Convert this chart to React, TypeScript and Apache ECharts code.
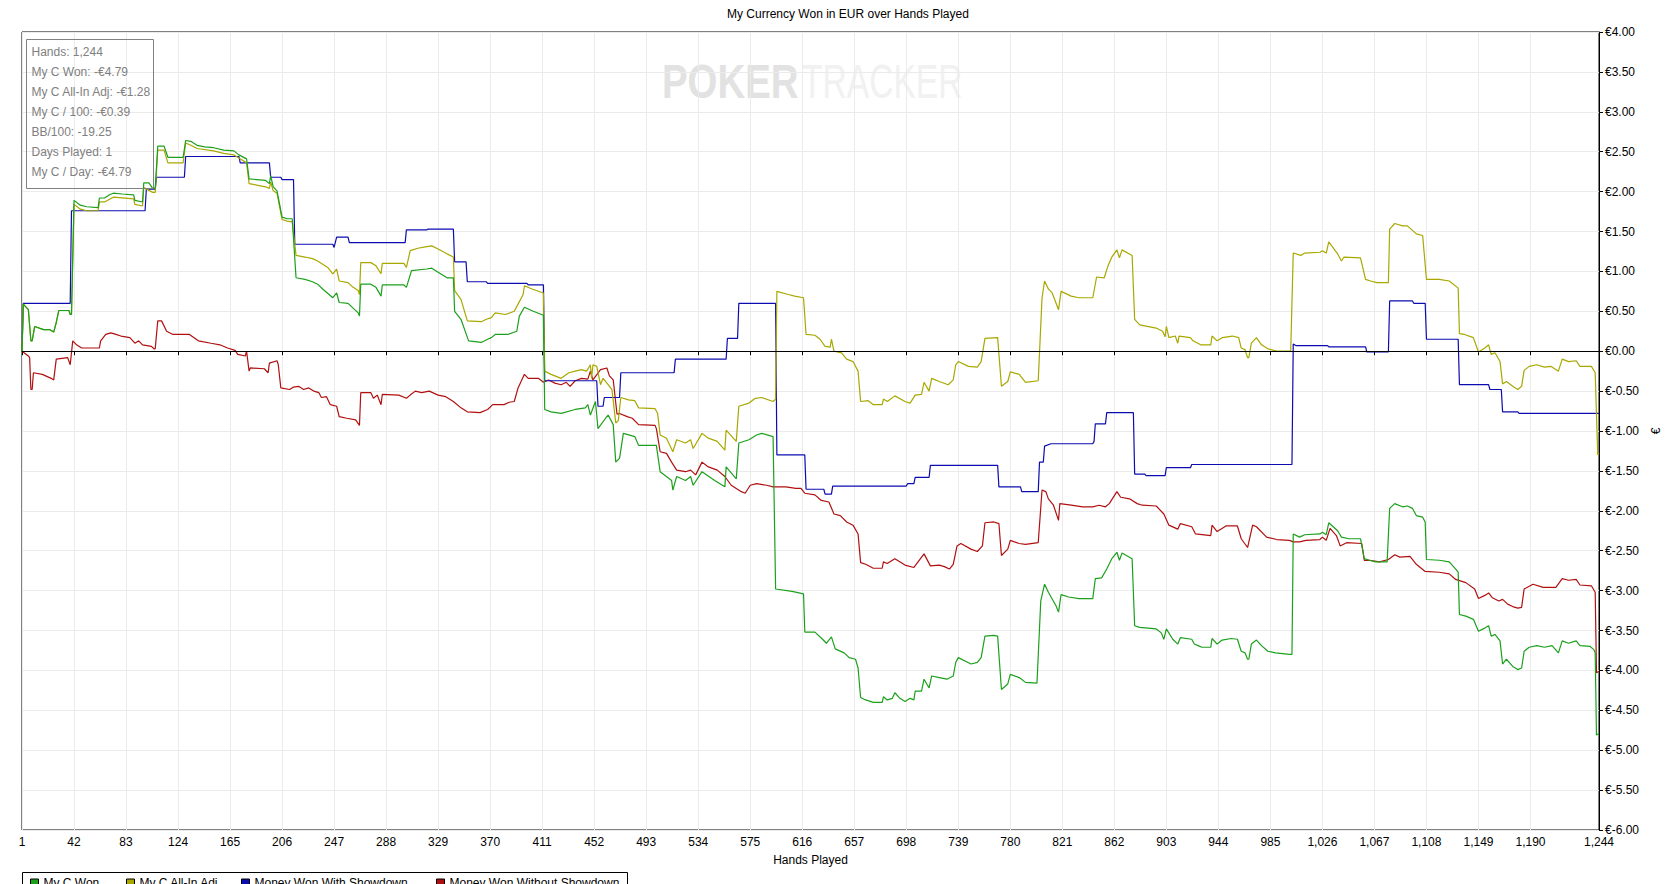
import React, { useEffect, useRef } from "react";
import * as echarts from "echarts";

const TITLE = "My Currency Won in EUR over Hands Played";
const X_NAME = "Hands Played";
const Y_NAME = "€";
const HAND_TICKS = [1, 42, 83, 124, 165, 206, 247, 288, 329, 370, 411, 452, 493, 534, 575, 616, 657, 698, 739, 780, 821, 862, 903, 944, 985, 1026, 1067, 1108, 1149, 1190, 1244];
const SERIES_NAMES = ["My C Won", "My C All-In Adj", "Money Won With Showdown", "Money Won Without Showdown"];
const STATS_LINES = ["Hands: 1,244", "My C Won: -€4.79", "My C All-In Adj: -€1.28", "My C / 100: -€0.39", "BB/100: -19.25", "Days Played: 1", "My C / Day: -€4.79"];

const MY_C_WON = [[1,0],[2,0.59],[6,0.52],[8,0.13],[9,0.13],[11,0.31],[18,0.27],[23,0.27],[26,0.24],[28,0.36],[30,0.51],[38,0.51],[39,0.46],[40,0.46],[42,1.89],[47,1.83],[52,1.81],[61,1.80],[62,1.92],[66,1.92],[70,1.96],[73,1.98],[80,1.97],[89,1.96],[90,1.89],[96,1.87],[97,2.11],[101,2.11],[104,2.04],[106,2.04],[108,2.57],[113,2.57],[116,2.43],[128,2.43],[130,2.64],[134,2.63],[139,2.58],[145,2.56],[152,2.55],[160,2.52],[168,2.51],[172,2.46],[178,2.41],[180,2.16],[193,2.14],[196,2.10],[197,2.20],[199,2.06],[202,2.01],[206,1.68],[210,1.66],[214,1.66],[217,0.92],[224,0.90],[230,0.87],[234,0.84],[238,0.78],[246,0.67],[249,0.73],[251,0.61],[258,0.60],[262,0.54],[266,0.48],[267,0.44],[268,0.84],[276,0.84],[280,0.80],[284,0.69],[285,0.83],[302,0.83],[304,0.80],[308,1.01],[320,1.03],[324,1.04],[329,0.99],[336,0.92],[341,0.92],[342,0.50],[347,0.40],[353,0.13],[363,0.11],[368,0.15],[371,0.17],[374,0.21],[384,0.21],[391,0.25],[393,0.44],[397,0.55],[404,0.50],[412,0.45],[413,-0.73],[418,-0.76],[426,-0.78],[437,-0.73],[445,-0.71],[447,-0.67],[449,-0.80],[453,-0.63],[455,-0.97],[461,-0.84],[463,-0.80],[467,-0.92],[469,-1.39],[472,-1.34],[475,-1.03],[484,-1.07],[487,-1.18],[501,-1.18],[504,-1.51],[513,-1.62],[514,-1.74],[517,-1.57],[524,-1.62],[528,-1.57],[530,-1.68],[537,-1.51],[547,-1.62],[555,-1.70],[556,-1.45],[564,-1.60],[566,-1.15],[574,-1.11],[580,-1.05],[584,-1.03],[593,-1.07],[595,-2.98],[608,-3.01],[617,-3.04],[618,-3.52],[626,-3.52],[632,-3.61],[635,-3.66],[639,-3.58],[642,-3.73],[649,-3.78],[653,-3.84],[658,-3.86],[660,-3.97],[662,-4.34],[666,-4.37],[672,-4.40],[679,-4.40],[680,-4.33],[683,-4.37],[687,-4.35],[689,-4.28],[693,-4.35],[697,-4.39],[701,-4.35],[704,-4.37],[705,-4.26],[710,-4.26],[712,-4.11],[716,-4.22],[718,-4.07],[724,-4.09],[730,-4.11],[735,-4.07],[737,-3.90],[739,-3.84],[749,-3.92],[754,-3.90],[757,-3.84],[760,-3.57],[767,-3.56],[770,-3.57],[773,-4.24],[778,-4.17],[780,-4.05],[787,-4.09],[792,-4.15],[801,-4.16],[804,-3.13],[807,-2.92],[810,-3.02],[816,-3.19],[818,-3.27],[820,-3.05],[826,-3.08],[834,-3.10],[845,-3.10],[847,-2.85],[852,-2.84],[856,-2.73],[860,-2.60],[864,-2.52],[866,-2.62],[868,-2.53],[876,-2.60],[878,-3.44],[882,-3.46],[895,-3.48],[899,-3.53],[901,-3.61],[903,-3.48],[908,-3.61],[912,-3.67],[914,-3.59],[923,-3.61],[925,-3.67],[928,-3.69],[931,-3.71],[938,-3.71],[939,-3.60],[943,-3.67],[947,-3.62],[954,-3.60],[959,-3.61],[962,-3.76],[965,-3.78],[967,-3.86],[968,-3.86],[970,-3.67],[974,-3.62],[978,-3.69],[983,-3.76],[989,-3.78],[1000,-3.80],[1002,-3.80],[1003,-2.29],[1008,-2.33],[1012,-2.30],[1024,-2.29],[1026,-2.27],[1029,-2.30],[1031,-2.15],[1038,-2.25],[1041,-2.33],[1047,-2.35],[1056,-2.35],[1059,-2.60],[1063,-2.62],[1068,-2.64],[1077,-2.64],[1079,-1.97],[1083,-1.91],[1089,-1.95],[1093,-1.94],[1097,-1.97],[1100,-2.06],[1105,-2.08],[1107,-2.14],[1108,-2.61],[1118,-2.62],[1126,-2.64],[1131,-2.73],[1133,-2.77],[1134,-3.30],[1139,-3.32],[1145,-3.36],[1149,-3.51],[1154,-3.47],[1157,-3.44],[1159,-3.57],[1162,-3.55],[1166,-3.63],[1168,-3.92],[1171,-3.86],[1176,-3.95],[1180,-3.99],[1183,-3.97],[1185,-3.76],[1189,-3.71],[1195,-3.69],[1201,-3.71],[1207,-3.69],[1212,-3.78],[1215,-3.63],[1220,-3.66],[1226,-3.63],[1229,-3.69],[1237,-3.70],[1240,-3.74],[1241,-3.78],[1242,-4.81],[1244,-4.79]];

const MY_C_ALLIN_ADJ = [[1,0],[2,0.59],[6,0.52],[8,0.13],[9,0.13],[11,0.31],[18,0.27],[23,0.27],[26,0.24],[28,0.36],[30,0.51],[38,0.51],[39,0.46],[40,0.46],[42,1.84],[47,1.78],[52,1.76],[61,1.76],[62,1.87],[66,1.87],[73,1.93],[89,1.91],[90,1.84],[96,1.82],[97,2.05],[104,1.99],[106,1.99],[108,2.52],[113,2.52],[116,2.36],[128,2.36],[130,2.61],[134,2.58],[139,2.54],[152,2.51],[160,2.48],[168,2.46],[172,2.42],[178,2.36],[180,2.10],[193,2.06],[196,2.04],[197,2.12],[199,2.01],[202,1.98],[206,1.65],[210,1.63],[214,1.62],[217,1.20],[224,1.18],[230,1.16],[234,1.13],[242,1.05],[246,0.97],[249,1.03],[251,0.88],[258,0.86],[262,0.80],[266,0.76],[267,0.71],[268,1.11],[276,1.11],[280,1.07],[284,0.97],[285,1.10],[302,1.10],[304,1.05],[307,1.26],[313,1.29],[320,1.31],[324,1.32],[329,1.28],[336,1.22],[341,1.18],[342,0.76],[347,0.65],[352,0.38],[363,0.37],[367,0.40],[371,0.42],[374,0.48],[382,0.46],[389,0.50],[392,0.59],[396,0.71],[397,0.82],[403,0.78],[412,0.73],[413,-0.25],[418,-0.29],[426,-0.34],[432,-0.27],[437,-0.25],[442,-0.23],[446,-0.25],[449,-0.17],[450,-0.34],[451,-0.17],[454,-0.19],[457,-0.42],[459,-0.34],[463,-0.42],[466,-0.48],[469,-0.90],[471,-0.87],[473,-0.58],[479,-0.61],[484,-0.62],[487,-0.71],[500,-0.72],[502,-0.78],[504,-1.05],[509,-1.09],[514,-1.26],[517,-1.11],[524,-1.15],[528,-1.11],[530,-1.22],[537,-1.03],[542,-1.09],[549,-1.13],[555,-1.24],[556,-0.99],[564,-1.13],[566,-0.69],[574,-0.65],[579,-0.59],[584,-0.58],[593,-0.63],[595,-0.60],[596,0.75],[605,0.71],[610,0.69],[617,0.67],[619,0.21],[626,0.20],[630,0.15],[634,0.06],[638,0.05],[639,0.15],[641,0.0],[647,-0.02],[651,-0.10],[656,-0.13],[660,-0.25],[662,-0.63],[668,-0.62],[672,-0.67],[679,-0.67],[680,-0.60],[683,-0.63],[689,-0.56],[697,-0.63],[701,-0.65],[705,-0.55],[710,-0.54],[712,-0.39],[716,-0.50],[718,-0.34],[724,-0.38],[731,-0.42],[735,-0.36],[737,-0.17],[739,-0.13],[747,-0.19],[754,-0.20],[757,-0.13],[760,0.16],[770,0.17],[773,-0.44],[778,-0.38],[780,-0.26],[787,-0.29],[792,-0.39],[802,-0.37],[805,0.67],[807,0.88],[810,0.78],[813,0.73],[818,0.52],[820,0.75],[828,0.69],[834,0.67],[845,0.67],[848,0.93],[854,0.92],[857,1.07],[860,1.18],[864,1.27],[866,1.17],[868,1.27],[876,1.20],[878,0.40],[882,0.33],[895,0.29],[900,0.25],[902,0.18],[903,0.31],[905,0.17],[910,0.19],[912,0.10],[913,0.19],[922,0.17],[924,0.13],[930,0.08],[938,0.08],[939,0.19],[943,0.13],[947,0.17],[955,0.19],[960,0.17],[962,0.04],[965,0.02],[967,-0.08],[968,-0.08],[970,0.10],[974,0.17],[978,0.08],[983,0.03],[990,0.0],[1001,0.0],[1003,1.23],[1009,1.20],[1012,1.23],[1024,1.24],[1026,1.26],[1029,1.23],[1031,1.37],[1038,1.22],[1041,1.13],[1043,1.18],[1056,1.17],[1060,0.90],[1064,0.88],[1069,0.86],[1078,0.86],[1079,1.53],[1083,1.60],[1089,1.57],[1093,1.57],[1100,1.47],[1105,1.45],[1108,0.90],[1118,0.90],[1126,0.88],[1133,0.79],[1134,0.22],[1138,0.21],[1145,0.17],[1149,-0.01],[1154,0.04],[1157,0.08],[1159,-0.04],[1162,-0.02],[1166,-0.13],[1168,-0.41],[1171,-0.38],[1176,-0.44],[1180,-0.48],[1183,-0.44],[1185,-0.24],[1189,-0.19],[1195,-0.17],[1201,-0.20],[1206,-0.19],[1212,-0.25],[1215,-0.10],[1220,-0.13],[1226,-0.12],[1229,-0.19],[1238,-0.19],[1241,-0.27],[1243,-1.30],[1244,-1.28]];

const WON_WITH_SD = [[1,0],[2,0.60],[39,0.60],[40,1.76],[98,1.76],[99,2.03],[106,2.03],[107,2.18],[129,2.18],[130,2.44],[172,2.44],[173,2.36],[196,2.36],[197,2.18],[205,2.18],[206,2.15],[215,2.15],[216,1.34],[246,1.34],[247,1.30],[249,1.43],[258,1.43],[259,1.36],[303,1.36],[304,1.52],[320,1.52],[321,1.53],[341,1.53],[342,1.12],[351,1.12],[352,0.87],[367,0.87],[368,0.85],[399,0.85],[400,0.83],[412,0.83],[413,-0.37],[454,-0.37],[455,-0.69],[459,-0.69],[460,-0.58],[472,-0.58],[473,-0.27],[515,-0.27],[516,-0.10],[556,-0.10],[557,0.16],[565,0.16],[566,0.60],[595,0.60],[596,-1.30],[618,-1.30],[619,-1.73],[633,-1.73],[634,-1.79],[639,-1.79],[640,-1.69],[698,-1.69],[699,-1.66],[704,-1.66],[705,-1.58],[716,-1.58],[717,-1.43],[770,-1.43],[771,-1.70],[788,-1.70],[789,-1.76],[802,-1.76],[803,-1.39],[806,-1.39],[807,-1.19],[812,-1.16],[845,-1.16],[846,-1.13],[847,-0.91],[855,-0.91],[856,-0.77],[877,-0.77],[878,-1.54],[886,-1.54],[887,-1.56],[902,-1.56],[903,-1.46],[922,-1.46],[923,-1.42],[1002,-1.42],[1003,0.09],[1005,0.07],[1030,0.07],[1031,0.055],[1060,0.055],[1061,-0.01],[1078,-0.01],[1079,0.63],[1097,0.63],[1098,0.60],[1107,0.60],[1108,0.15],[1133,0.15],[1134,-0.42],[1157,-0.42],[1158,-0.48],[1167,-0.48],[1168,-0.76],[1180,-0.76],[1181,-0.78],[1244,-0.78]];

const WON_WITHOUT_SD = [[1,0],[6,-0.06],[7,-0.08],[8,-0.48],[9,-0.48],[10,-0.27],[17,-0.29],[24,-0.34],[26,-0.36],[28,-0.10],[37,-0.08],[39,-0.17],[41,0.13],[44,0.08],[48,0.04],[62,0.04],[63,0.13],[67,0.21],[71,0.23],[75,0.21],[79,0.19],[86,0.17],[90,0.10],[93,0.13],[96,0.08],[103,0.06],[105,0.03],[106,0.03],[108,0.38],[111,0.38],[115,0.25],[120,0.21],[133,0.21],[140,0.13],[150,0.10],[157,0.08],[163,0.04],[169,0.01],[171,-0.04],[177,-0.06],[178,0.0],[180,-0.25],[181,-0.21],[192,-0.22],[195,-0.27],[196,-0.15],[202,-0.12],[203,-0.17],[205,-0.46],[212,-0.48],[215,-0.45],[219,-0.44],[223,-0.48],[227,-0.46],[231,-0.50],[235,-0.52],[237,-0.58],[241,-0.57],[244,-0.67],[249,-0.69],[251,-0.82],[257,-0.84],[264,-0.86],[267,-0.93],[268,-0.52],[276,-0.52],[278,-0.59],[281,-0.55],[284,-0.67],[285,-0.54],[298,-0.55],[304,-0.59],[307,-0.55],[311,-0.50],[316,-0.52],[322,-0.50],[329,-0.55],[335,-0.57],[341,-0.63],[347,-0.71],[352,-0.76],[362,-0.77],[368,-0.73],[372,-0.67],[381,-0.67],[385,-0.64],[389,-0.63],[392,-0.46],[397,-0.29],[400,-0.34],[408,-0.34],[412,-0.39],[416,-0.36],[421,-0.40],[426,-0.42],[430,-0.39],[433,-0.44],[437,-0.37],[442,-0.34],[447,-0.35],[449,-0.25],[451,-0.36],[457,-0.23],[462,-0.21],[464,-0.31],[467,-0.36],[470,-0.79],[472,-0.78],[478,-0.82],[482,-0.84],[487,-0.92],[500,-0.93],[501,-0.97],[504,-1.26],[509,-1.28],[513,-1.39],[517,-1.49],[524,-1.51],[528,-1.49],[532,-1.55],[537,-1.39],[542,-1.45],[549,-1.49],[555,-1.57],[560,-1.68],[568,-1.76],[571,-1.78],[575,-1.68],[580,-1.66],[588,-1.68],[593,-1.70],[603,-1.70],[611,-1.72],[615,-1.72],[618,-1.78],[626,-1.80],[631,-1.87],[637,-1.89],[641,-2.04],[646,-2.06],[651,-2.14],[656,-2.18],[660,-2.29],[662,-2.65],[666,-2.67],[672,-2.72],[679,-2.72],[680,-2.64],[683,-2.66],[689,-2.60],[697,-2.68],[704,-2.71],[712,-2.54],[717,-2.69],[724,-2.68],[728,-2.70],[732,-2.73],[735,-2.67],[738,-2.44],[741,-2.41],[749,-2.48],[754,-2.51],[758,-2.44],[760,-2.15],[767,-2.14],[771,-2.16],[773,-2.56],[778,-2.48],[780,-2.37],[787,-2.41],[792,-2.42],[802,-2.40],[805,-1.74],[808,-1.76],[810,-1.85],[814,-1.93],[818,-2.12],[819,-1.91],[828,-1.93],[837,-1.95],[845,-1.95],[850,-1.93],[855,-1.95],[858,-1.91],[864,-1.76],[867,-1.83],[874,-1.85],[880,-1.91],[884,-1.93],[895,-1.94],[901,-2.04],[905,-2.18],[912,-2.23],[914,-2.16],[923,-2.20],[926,-2.29],[938,-2.31],[939,-2.18],[943,-2.26],[950,-2.19],[959,-2.19],[962,-2.35],[967,-2.46],[971,-2.18],[974,-2.20],[982,-2.33],[990,-2.36],[1000,-2.37],[1003,-2.39],[1008,-2.39],[1013,-2.37],[1024,-2.36],[1026,-2.33],[1029,-2.37],[1032,-2.22],[1037,-2.31],[1040,-2.44],[1045,-2.40],[1057,-2.41],[1059,-2.62],[1063,-2.62],[1071,-2.64],[1078,-2.61],[1083,-2.55],[1087,-2.58],[1095,-2.57],[1100,-2.67],[1107,-2.76],[1118,-2.77],[1126,-2.79],[1131,-2.86],[1139,-2.90],[1146,-2.98],[1149,-3.10],[1154,-3.06],[1157,-3.03],[1160,-3.09],[1165,-3.13],[1168,-3.11],[1172,-3.17],[1176,-3.20],[1180,-3.22],[1183,-3.21],[1185,-2.98],[1192,-2.92],[1200,-2.96],[1210,-2.96],[1215,-2.85],[1220,-2.87],[1226,-2.86],[1229,-2.93],[1238,-2.94],[1241,-3.02],[1242,-4.03],[1244,-4.01]];

const FONT = '"Liberation Sans", Arial, sans-serif';
const COLORS = ["#1ca01c", "#a8a800", "#0c0cb0", "#b01010"];
const LEGEND_LEFTS = [30, 126, 241, 436];

export default function App() {
  const ref = useRef<HTMLDivElement>(null);
  useEffect(() => {
    document.body.style.margin = "0";
    const chart = echarts.init(ref.current!, null, { renderer: "svg" });
    const datasets = [MY_C_WON, MY_C_ALLIN_ADJ, WON_WITH_SD, WON_WITHOUT_SD];
    const zs = [5, 4, 3, 2];
    const series: any[] = datasets.map((d, i) => ({
      name: SERIES_NAMES[i],
      type: "line",
      data: d,
      showSymbol: false,
      symbol: "none",
      z: zs[i],
      lineStyle: { color: COLORS[i], width: 1.2 },
      itemStyle: { color: COLORS[i] },
      silent: true,
    }));
    series.push({
      name: "zero",
      type: "line",
      data: [],
      z: 6,
      markLine: {
        silent: true,
        symbol: ["none", "none"],
        label: { show: false },
        lineStyle: { color: "#000", width: 1, type: "solid" },
        data: [{ yAxis: 0 }],
      },
    });

    const legends = SERIES_NAMES.map((n, i) => ({
      data: [n],
      left: LEGEND_LEFTS[i],
      top: 877,
      padding: 0,
      itemWidth: 8,
      itemHeight: 8,
      icon: "rect",
      itemStyle: { borderColor: "#000", borderWidth: 1 },
      textStyle: { fontSize: 12, color: "#000", fontFamily: FONT },
      selectedMode: false,
      z: 5,
    }));

    const graphics: any[] = [
      {
        type: "text",
        x: 662,
        y: 81,
        scaleX: 0.8,
        z: -10,
        silent: true,
        style: { text: "POKER", font: `bold 48px ${FONT}`, fill: "#e2e2e2", verticalAlign: "middle" },
      },
      {
        type: "text",
        x: 802,
        y: 81,
        scaleX: 0.7,
        z: -10,
        silent: true,
        style: { text: "TRACKER", font: `48px ${FONT}`, fill: "#f1f1f1", verticalAlign: "middle" },
      },
      {
        type: "rect",
        shape: { x: 26.5, y: 39.5, width: 127, height: 149 },
        style: { fill: "rgba(255,255,255,0)", stroke: "#808080", lineWidth: 1 },
        z: 10,
        silent: true,
      },
      ...STATS_LINES.map((t, i) => ({
        type: "text",
        x: 31.5,
        y: 52 + i * 20,
        z: 10,
        silent: true,
        style: { text: t, font: `12px ${FONT}`, fill: "#808080", verticalAlign: "middle" },
      })),
      {
        type: "rect",
        shape: { x: 22.5, y: 872.5, width: 605, height: 30 },
        style: { fill: "#fff", stroke: "#000", lineWidth: 1 },
        z: 0,
        silent: true,
      },
    ];

    chart.setOption({
      animation: false,
      backgroundColor: "#fff",
      title: {
        text: TITLE,
        left: 727,
        top: 8,
        padding: 0,
        textStyle: { fontSize: 12, fontWeight: "normal", color: "#000", fontFamily: FONT },
      },
      legend: legends,
      grid: {
        left: 22,
        right: 73,
        top: 32,
        bottom: 54,
        show: true,
        borderColor: "#000",
        borderWidth: 1,
        backgroundColor: "transparent",
      },
      xAxis: {
        type: "value",
        min: 1,
        max: 1244,
        name: X_NAME,
        nameLocation: "middle",
        nameGap: 24,
        nameTextStyle: { fontSize: 12, color: "#000", fontFamily: FONT },
        axisLine: { show: true, lineStyle: { color: "#000", width: 1 } },
        axisTick: { show: true, length: 4, lineStyle: { color: "#000" }, customValues: HAND_TICKS },
        axisLabel: {
          customValues: HAND_TICKS,
          fontSize: 12,
          color: "#000",
          fontFamily: FONT,
          margin: 6,
          formatter: (v: number) => Number(v).toLocaleString("en-US"),
        },
        splitLine: { show: true, lineStyle: { color: "#ebebeb", width: 1 } },
      },
      yAxis: {
        type: "value",
        position: "right",
        min: -6,
        max: 4,
        interval: 0.5,
        name: Y_NAME,
        nameLocation: "middle",
        nameGap: 50,
        nameRotate: 90,
        nameTextStyle: { fontSize: 12, color: "#000", fontFamily: FONT },
        axisLine: { show: true, lineStyle: { color: "#000", width: 1 } },
        axisTick: { show: true, length: 4, lineStyle: { color: "#000" } },
        axisLabel: {
          fontSize: 12,
          color: "#000",
          fontFamily: FONT,
          margin: 6,
          formatter: (v: number) => "€" + Number(v).toFixed(2),
        },
        splitLine: { show: true, lineStyle: { color: "#ebebeb", width: 1 } },
      },
      graphic: graphics,
      series,
    });
    return () => chart.dispose();
  }, []);
  return <div ref={ref} style={{ width: 1672, height: 884 }} />;
}
